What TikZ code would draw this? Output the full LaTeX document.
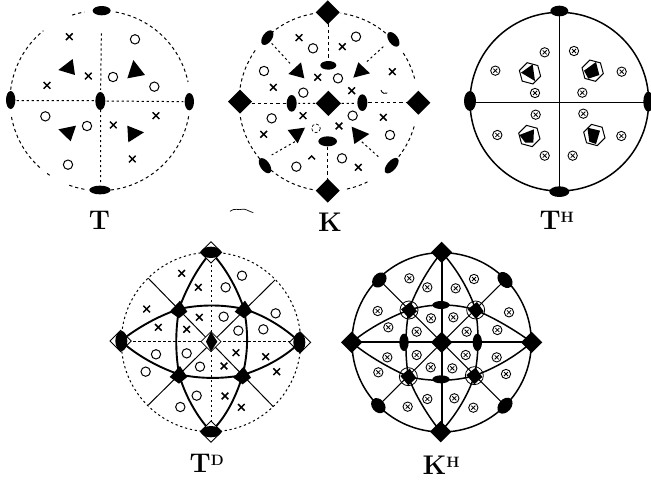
\documentclass[tikz,border=0pt]{standalone}
\newcommand{\mkx}[1]{\foreach \a/\b in {#1}{\draw[line width=1.5pt] (\a,\b) +(-10,-10) -- +(10,10) (\a,\b) +(-10,10) -- +(10,-10);}}
\newcommand{\mko}[1]{\foreach \a/\b in {#1}{\draw[line width=1pt,fill=white] (\a,\b) circle[radius=14];}}
\newcommand{\mkt}[1]{\foreach \a/\b in {#1}{\draw[line width=0.9pt,fill=white] (\a,\b) circle[radius=14];\draw[line width=0.8pt] (\a,\b) +(-6,-6) -- +(6,6) (\a,\b) +(-6,6) -- +(6,-6);}}
\newcommand{\mkd}[2][31]{\foreach \a/\b in {#2}{\fill (\a,\b) +(-#1,0) -- +(0,-#1) -- +(#1,0) -- +(0,#1) -- cycle;}}
\tikzset{
  dsh/.style={line width=1pt,dash pattern=on 3.2pt off 3pt},
  dshfine/.style={line width=1pt,dash pattern=on 2.2pt off 2.8pt},
  heavy/.style={line width=1.9pt},
  medium/.style={line width=1.5pt},
  thinl/.style={line width=1pt},
  lab/.style={inner sep=0pt,font=\fontsize{27}{27}\selectfont\bfseries},
}
\newcommand{\sups}[1]{\raisebox{7pt}{\fontsize{15}{15}\selectfont\bfseries #1}}
\begin{document}
\begin{tikzpicture}[x=1pt,y=-1pt]
\useasboundingbox (0,0) rectangle (651,482);
\clip (0,0) rectangle (651,482);
\fill[white] (0,0) rectangle (651,482);
\begin{scope}[x=0.33333pt,y=-0.33333pt]
% ---------- T
\draw[dsh] (300,302) +(100:270) arc[start angle=100,end angle=110,radius=270];
\draw[dsh] (300,302) +(124:270) arc[start angle=124,end angle=127,radius=270];
\draw[dsh] (300,302) +(132:270) arc[start angle=132,end angle=171,radius=270];
\draw[dsh] (300,302) +(187:270) arc[start angle=187,end angle=231,radius=270];
\draw[dsh] (300,302) +(-108:270) arc[start angle=-108,end angle=-100,radius=270];
\draw[dsh] (300,302) +(-80:270) arc[start angle=-80,end angle=-12,radius=270];
\draw[dsh] (300,302) +(10:270) arc[start angle=10,end angle=83,radius=270];
\draw[dshfine] (304,100) -- (302,270) (302,330) -- (302,555) (50,302) -- (285,302) (320,303) -- (550,305);
\fill (305,32) ellipse[x radius=27,y radius=14];
\fill (300,570) ellipse[x radius=32,y radius=13];
\fill (32,300) ellipse[x radius=14,y radius=27];
\fill (568,305) ellipse[x radius=14,y radius=26];
\fill (301,303) ellipse[x radius=15,y radius=27];
\fill (175,210) -- (218,177) -- (225,225) -- cycle;
\fill (400,180) -- (435,225) -- (382,235) -- cycle;
\fill (175,388) -- (228,377) -- (212,424) -- cycle;
\fill (382,377) -- (432,397) -- (385,427) -- cycle;
\mkx{208/110,265/228,141/256,468/347,340/375,397/477}
\mko{405/118,339/231,463/260,136/349,261/378,204/494}
\node[lab] (labT) at (298,662) {T};
% ---------- K
\begin{scope}[shift={(215pt,0pt)}]
\draw[dsh] (340,305) +(78:268) arc[start angle=78,end angle=63,radius=268];
\draw[dsh] (340,305) +(42:268) arc[start angle=42,end angle=15,radius=268];
\draw[dsh] (340,305) +(-15:268) arc[start angle=-15,end angle=-33,radius=268];
\draw[dsh] (340,305) +(-50:268) arc[start angle=-50,end angle=-82,radius=268];
\draw[dsh] (340,305) +(-100:268) arc[start angle=-100,end angle=-130,radius=268];
\draw[dsh] (340,305) +(-145:268) arc[start angle=-145,end angle=-172,radius=268];
\draw[dsh] (340,305) +(170:268) arc[start angle=170,end angle=140,radius=268];
\draw[dsh] (340,305) +(130:268) arc[start angle=130,end angle=100,radius=268];
\draw[dsh] (340,70) -- (340,180) (338,440) -- (338,540) (110,310) -- (215,310) (460,308) -- (575,308);
\draw[dshfine] (170,130) -- (225,190) (505,140) -- (450,190) (240,425) -- (170,465) (490,470) -- (440,425) (300,310) -- (250,310) (380,310) -- (425,310);
\mkd[36]{338/37,75/305,610/308,338/572}
\mkd[38]{340/310}
\fill (157,113) ellipse[x radius=14,y radius=25,rotate=-35];
\fill (535,118) ellipse[x radius=14,y radius=25,rotate=35];
\fill (150,497) ellipse[x radius=14,y radius=26,rotate=35];
\fill (530,497) ellipse[x radius=14,y radius=28,rotate=-40];
\fill (340,196) ellipse[x radius=24,y radius=13];
\fill (338,424) ellipse[x radius=28,y radius=15];
\fill (230,310) ellipse[x radius=15,y radius=25];
\fill (442,308) ellipse[x radius=15,y radius=25];
\fill (220,222) -- (258,187) -- (268,235) -- cycle;
\fill (415,233) -- (430,187) -- (465,220) -- cycle;
\fill (218,390) -- (270,383) -- (248,430) -- cycle;
\fill (410,380) -- (463,402) -- (418,432) -- cycle;
\mkx{252/113,382/140,532/215,308/232,410/272,175/262,264/347,505/352,372/378,146/403,430/502}
\draw[line width=1.5pt] (280,478) -- (290,468) -- (300,478);
\mko{423/110,294/145,147/213,369/235,265/278,170/355,413/347,525/405,381/475,244/500}
\draw[line width=0.9pt] (498,270) arc[start angle=170,end angle=60,radius=13];
\draw[line width=0.7pt,dash pattern=on 3pt off 2pt] (303,385) circle[radius=13];
\node[lab] (labK) at (345,668) {K};
\draw[line width=0.7pt] (45,634) .. controls (62,622) and (70,632) .. (80,628) .. controls (92,625) and (100,634) .. (115,638);
\end{scope}
% ---------- TH
\begin{scope}[shift={(440pt,0pt)}]
\draw[medium] (358,305) circle[radius=268];
\draw[medium] (358,33) -- (358,575) (90,307) -- (625,307);
\fill (358,33) ellipse[x radius=27,y radius=16];
\fill (358,575) ellipse[x radius=30,y radius=16];
\fill (90,303) ellipse[x radius=18,y radius=30];
\fill (625,305) ellipse[x radius=15,y radius=30];
\foreach \q/\r in {270/220,458/212,268/408,463/405}{
  \draw[line width=1pt,fill=white] (\q,\r) +(15:33) -- +(75:33) -- +(135:33) -- +(195:33) -- +(255:33) -- +(315:33) -- cycle;
}
\fill (243,218) -- (278,193) -- (285,243) -- cycle;
\fill (432,212) -- (468,186) -- (478,225) -- (445,236) -- cycle;
\fill (238,405) -- (282,388) -- (280,428) -- (256,428) -- cycle;
\fill (442,383) -- (480,392) -- (468,432) -- (448,425) -- cycle;
\mkt{314/157,402/153,166/212,545/215,285/279,427/278,287/344,430/341,172/405,544/408,314/467,398/467}
\node[lab] (labTH) at (350,662) {T\sups{H}};
\end{scope}
% ---------- TD
\begin{scope}[shift={(100pt,-235pt)}]
\draw[dshfine] (333,321) circle[radius=269];
\draw[dshfine] (333,60) -- (333,580) (70,320) -- (590,320);
\draw[thinl] (145,130) -- (520,515) (525,135) -- (145,510);
\draw[heavy] (333,52) .. controls (290,100) and (255,170) .. (237,222) .. controls (226,290) and (226,350) .. (237,418) .. controls (255,480) and (290,545) .. (333,590);
\draw[heavy] (333,52) .. controls (380,100) and (415,170) .. (432,222) .. controls (445,290) and (445,350) .. (428,420) .. controls (410,480) and (380,545) .. (333,590);
\draw[heavy] (62,318) .. controls (110,280) and (170,245) .. (237,222) .. controls (300,208) and (370,208) .. (432,222) .. controls (490,240) and (550,275) .. (600,322);
\draw[heavy] (62,318) .. controls (110,360) and (170,395) .. (237,418) .. controls (300,432) and (370,432) .. (428,420) .. controls (490,400) and (550,370) .. (600,322);
\foreach \a/\b in {333/52,62/318,600/322,333/590}{
  \draw[line width=0.9pt,fill=white] (\a,\b) +(-32,0) -- +(0,-32) -- +(32,0) -- +(0,32) -- cycle;
}
\fill (333,52) ellipse[x radius=30,y radius=17];
\fill (333,590) ellipse[x radius=30,y radius=17];
\fill (64,318) ellipse[x radius=18,y radius=30];
\fill (598,322) ellipse[x radius=18,y radius=30];
\draw[line width=0.8pt,fill=white] (333,320) +(-30,0) -- +(0,-30) -- +(30,0) -- +(0,30) -- cycle;
\fill (333,290) -- (352,320) -- (333,350) -- (318,320) -- cycle;
\foreach \a/\b in {237/222,432/222,237/418,428/420}{
  \fill (\a,\b) +(-28,8) -- +(3,-25) -- +(25,8) -- +(0,28) -- cycle;
}
\mkx{245/115,295/157,140/222,298/247,175/277,260/283,408/353,497/365,372/393,530/410,375/483,424/517}
\mko{426/122,377/157,527/235,371/245,490/283,415/287,168/358,260/355,300/395,137/410,290/482,241/516}
\node[lab] (labTD) at (320,685) {T\sups{D}};
\end{scope}
% ---------- KH
\begin{scope}[shift={(330pt,-235pt)}]
\draw[medium] (335,322) circle[radius=269];
\draw[heavy] (335,52) -- (335,590) (65,322) -- (605,322);
\draw[thinl] (148,135) -- (525,512) (525,135) -- (145,512);
\draw[medium] (335,52) .. controls (295,100) and (255,170) .. (237,225) .. controls (225,290) and (225,360) .. (235,425) .. controls (255,480) and (295,545) .. (332,590);
\draw[medium] (335,52) .. controls (380,100) and (420,170) .. (437,225) .. controls (447,290) and (447,360) .. (433,422) .. controls (415,480) and (375,545) .. (332,590);
\draw[medium] (65,322) .. controls (110,285) and (170,250) .. (237,225) .. controls (300,205) and (375,205) .. (437,225) .. controls (495,250) and (555,285) .. (605,322);
\draw[medium] (65,322) .. controls (110,360) and (170,395) .. (235,425) .. controls (300,440) and (370,440) .. (433,422) .. controls (495,400) and (555,365) .. (605,322);
\mkd[32]{335/52,65/322,605/322,332/590}
\mkd[32]{335/322}
\fill (148,135) ellipse[x radius=19,y radius=25,rotate=-40];
\fill (525,135) ellipse[x radius=19,y radius=27,rotate=40];
\fill (145,512) ellipse[x radius=19,y radius=25,rotate=40];
\fill (525,512) ellipse[x radius=19,y radius=27,rotate=-40];
\fill (333,210) ellipse[x radius=26,y radius=12];
\fill (333,433) ellipse[x radius=26,y radius=12];
\fill (222,322) ellipse[x radius=14,y radius=26];
\fill (442,322) ellipse[x radius=14,y radius=26];
\foreach \a/\b in {237/225,437/225,235/425,433/422}{
  \draw[line width=0.8pt] (\a,\b) circle[radius=27];
  \fill (\a,\b) +(-24,-2) -- +(4,-24) -- +(24,4) -- +(0,26) -- cycle;
}
\mkt{238/130,432/132,292/157,377/160,143/228,537/232,303/250,370/247,175/277,260/290,410/290,502/285,260/360,407/360,172/367,500/367,302/397,367/400,145/412,528/417,292/492,373/490,233/515,430/518}
\node[lab] (labKH) at (333,692) {K\sups{H}};
\end{scope}
\end{scope}
\end{tikzpicture}
\end{document}
